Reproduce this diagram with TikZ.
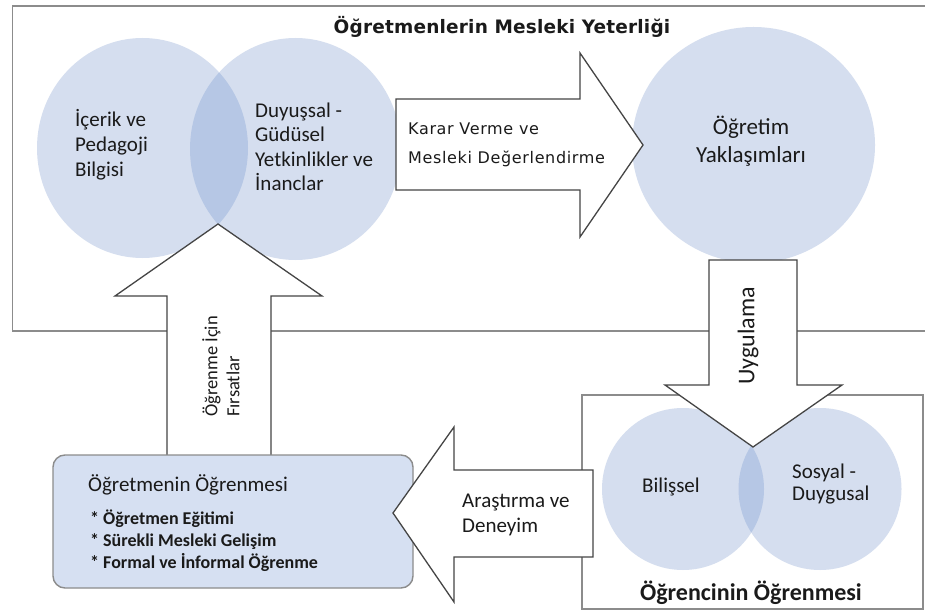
\documentclass[tikz,border=0pt]{standalone}
\usepackage{fontspec}
\setmainfont{Carlito}
\newfontfamily\tahfont[LetterSpace=4]{DejaVu Sans}
\newfontfamily\tahtitle[LetterSpace=1]{DejaVu Sans}
\newcommand\myfs[2]{\fontsize{#1}{#2}\selectfont}
\definecolor{circfill}{HTML}{D5DEEF}
\definecolor{overfill}{HTML}{B6C7E5}
\definecolor{boxfill}{HTML}{D6E0F2}
\definecolor{framecol}{HTML}{8C8C8C}
\definecolor{arrowcol}{HTML}{454545}
\definecolor{txt}{HTML}{1A1A1A}
\begin{document}
\begin{tikzpicture}[x=1pt,y=-1pt,
  frame/.style={draw=framecol, line width=1.8pt},
  blockarrow/.style={draw=arrowcol, fill=white, line width=1.3pt, line join=miter},
  venn/.style={fill=circfill},
  lbl/.style={inner sep=0pt, text=txt, align=left},
]
\useasboundingbox (0,0) rectangle (925,612);
\fill[white] (0,0) rectangle (925,612);

% outer frame of teacher competence
\draw[frame] (12.5,6) rectangle (940,331);

% top Venn circles
\coordinate (cA) at (142.5,148);
\coordinate (cB) at (295.5,149);
\fill[venn] (cA) ellipse [x radius=105.5pt, y radius=110pt];
\fill[venn] (cB) ellipse [x radius=105.5pt, y radius=111pt];
\begin{scope}
  \clip (cA) ellipse [x radius=105.5pt, y radius=110pt];
  \fill[overfill] (cB) ellipse [x radius=105.5pt, y radius=111pt];
\end{scope}

% teaching approaches circle
\coordinate (cC) at (753.5,145);
\fill[venn] (cC) ellipse [x radius=121.5pt, y radius=118pt];

% up arrow (opportunities to learn)
\draw[blockarrow] (167,455) -- (167,296) -- (115,296) -- (218,224) -- (322,296) -- (271,296) -- (271,455);

% right arrow (decision making)
\draw[blockarrow] (396,99) -- (580,99) -- (580,53) -- (643,145) -- (580,237) -- (580,190) -- (396,190) -- cycle;

% student learning box
\draw[frame, line width=1.6pt] (582,395) rectangle (923,609);
\coordinate (cD) at (683,489);
\coordinate (cE) at (820,489);
\fill[venn] (cD) ellipse [x radius=81pt, y radius=81pt];
\fill[venn] (cE) ellipse [x radius=81.5pt, y radius=81pt];
\begin{scope}
  \clip (cD) ellipse [x radius=81pt, y radius=81pt];
  \fill[overfill] (cE) ellipse [x radius=81.5pt, y radius=81pt];
\end{scope}

% down arrow (application)
\draw[blockarrow] (709,260) -- (797,260) -- (797,385) -- (842,385) -- (753,447) -- (665,385) -- (709,385) -- cycle;

% teacher learning box
\draw[draw=framecol, line width=1.4pt, fill=boxfill, rounded corners=12pt] (53,455) rectangle (413,588);

% left arrow (research and experience)
\draw[blockarrow] (593,470) -- (454,470) -- (454,427) -- (393,513) -- (454,602) -- (454,557) -- (593,557) -- cycle;

% texts
\node[lbl, font=\tahtitle\bfseries\myfs{18.5}{24}] (title) at (502,27) {Öğretmenlerin Mesleki Yeterliği};
\node[lbl, anchor=west, font=\myfs{21}{25}] (icerik) at (75,145) {İçerik ve\\Pedagoji\\Bilgisi};
\node[lbl, anchor=west, font=\myfs{21}{24.5}] (duyussal) at (255,147) {Duyuşsal -\\Güdüsel\\Yetkinlikler ve\\İnanclar};
\node[lbl, anchor=west, font=\tahfont\myfs{16}{29}] (karar) at (408,145) {Karar Verme ve\\Mesleki Değerlendirme};
\node[lbl, align=center, font=\myfs{23}{28}] (ogretim) at (751,141) {Öğretim\\Yaklaşımları};
\node[lbl, rotate=90, font=\myfs{24}{28}] (uyg) at (748,336) {Uygulama};
\node[lbl, rotate=90, anchor=west, font=\myfs{18.5}{22}] (firsat) at (221,417) {Öğrenme İçin\\Fırsatlar};
\node[lbl, anchor=west, font=\myfs{21}{25}] (arastirma) at (462,515) {Araştırma ve\\Deneyim};
\node[lbl, anchor=west, font=\myfs{21}{25}] (bilissel) at (642,487) {Bilişsel};
\node[lbl, anchor=west, font=\myfs{21}{22}] (sosyal) at (792,484) {Sosyal -\\Duygusal};
\node[lbl, font=\bfseries\myfs{24}{28}] (ogrenci) at (751,593) {Öğrencinin Öğrenmesi};
\node[lbl, anchor=west, font=\myfs{21}{25}] (ogretmen) at (88,485) {Öğretmenin Öğrenmesi};
\node[lbl, anchor=west, font=\bfseries\myfs{18}{22}] (liste) at (90,541) {* Öğretmen Eğitimi\\* Sürekli Mesleki Gelişim\\* Formal ve İnformal Öğrenme};
\end{tikzpicture}
\end{document}
